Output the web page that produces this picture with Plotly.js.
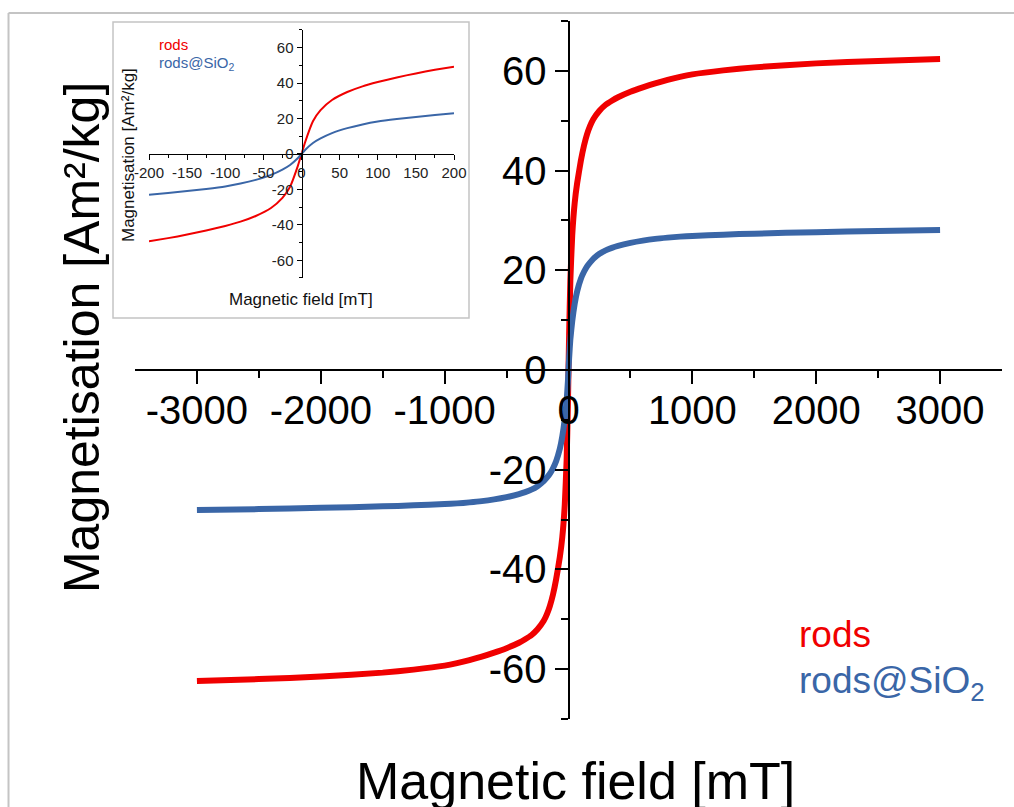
<!DOCTYPE html>
<html>
<head>
<meta charset="utf-8">
<script src="https://cdn.plot.ly/plotly-3.0.1.min.js"></script>
<style>
  html, body { margin: 0; padding: 0; background: #ffffff; }
  #chart { width: 1014px; height: 807px; }
</style>
</head>
<body>
<div id="chart"></div>
<script>
// ---- data ----
const fieldMain = [-3000,-2500,-2000,-1500,-1250,-1000,-900,-800,-700,-600,-500,-400,-350,-300,-250,-200,-175,-150,-125,-100,-70,-50,-30,-15,-5,
                   0,
                   5,15,30,50,70,100,125,150,175,200,250,300,350,400,500,600,700,800,900,1000,1250,1500,2000,2500,3000];
const rodsMain = [-62.4,-62.0,-61.5,-60.7,-60.1,-59.3,-58.8,-58.2,-57.5,-56.7,-55.8,-54.7,-54.0,-53.2,-52.0,-50.3,-49.0,-47.3,-45.0,-42.0,-37.5,-33.5,-27.0,-18.0,-7.0,
                  0,
                  7.0,18.0,27.0,33.5,37.5,42.0,45.0,47.3,49.0,50.3,52.0,53.2,54.0,54.7,55.8,56.7,57.5,58.2,58.8,59.3,60.1,60.7,61.5,62.0,62.4];
const silicaMain = [-28.1,-27.9,-27.65,-27.35,-27.15,-26.9,-26.75,-26.55,-26.3,-25.95,-25.5,-24.9,-24.5,-24.0,-23.3,-22.3,-21.6,-20.8,-19.7,-18.3,-15.8,-13.3,-9.8,-6.2,-2.4,
                    0,
                    2.4,6.2,9.8,13.3,15.8,18.3,19.7,20.8,21.6,22.3,23.3,24.0,24.5,24.9,25.5,25.95,26.3,26.55,26.75,26.9,27.15,27.35,27.65,27.9,28.1];

const fieldInset = [-200,-175,-150,-125,-100,-80,-60,-40,-25,-15,-5,0,5,15,25,40,60,80,100,125,150,175,200];
const rodsInset = [-49.3,-47.5,-45.5,-43.2,-40.6,-38.2,-35.0,-30.5,-24.8,-18.5,-7.0,0,7.0,18.5,24.8,30.5,35.0,38.2,40.6,43.2,45.5,47.5,49.3];
const silicaInset = [-23.0,-22.0,-20.9,-19.7,-18.3,-16.7,-14.6,-11.8,-8.8,-6.2,-2.4,0,2.4,6.2,8.8,11.8,14.6,16.7,18.3,19.7,20.9,22.0,23.0];

const xTickVals = [-3000,-2000,-1000,0,1000,2000,3000];
const xTickText = ['-3000','-2000','-1000','0','1000','2000','3000'];
const yTickVals = [-60,-40,-20,0,20,40,60];
const yTickText = ['-60','-40','-20','0','20','40','60'];
const insetXTickVals = [-200,-150,-100,-50,0,50,100,150,200];
const insetXTickText = ['-200','-150','-100','-50','0','50','100','150','200'];
const insetYTickVals = [-60,-40,-20,0,20,40,60];
const insetYTickText = ['-60','-40','-20','0','20','40','60'];

const seriesNames = ['rods', 'rods@SiO<sub>2</sub>'];
const xTitle = 'Magnetic field [mT]';
const yTitle = 'Magnetisation [Am²/kg]';

// ---- styling ----
const RED = '#f00000';
const BLUE = '#3a66a7';
const FONT = 'Liberation Sans, Arial, Helvetica, sans-serif';

const traces = [
  {x: fieldMain, y: rodsMain, type: 'scatter', mode: 'lines', xaxis: 'x', yaxis: 'y',
   line: {color: RED, width: 6, shape: 'spline', smoothing: 0.5}, hoverinfo: 'skip'},
  {x: fieldMain, y: silicaMain, type: 'scatter', mode: 'lines', xaxis: 'x', yaxis: 'y',
   line: {color: BLUE, width: 6, shape: 'spline', smoothing: 0.5}, hoverinfo: 'skip'},
  {x: fieldInset, y: rodsInset, type: 'scatter', mode: 'lines', xaxis: 'x2', yaxis: 'y2',
   line: {color: RED, width: 2, shape: 'spline', smoothing: 0.6}, hoverinfo: 'skip'},
  {x: fieldInset, y: silicaInset, type: 'scatter', mode: 'lines', xaxis: 'x2', yaxis: 'y2',
   line: {color: BLUE, width: 2, shape: 'spline', smoothing: 0.6}, hoverinfo: 'skip'}
];

const mainAxisCommon = {
  showline: true, linecolor: '#000', linewidth: 2,
  ticks: 'outside', ticklen: 13, tickwidth: 2, tickcolor: '#000',
  showgrid: false, zeroline: false,
  tickfont: {family: FONT, size: 40, color: '#000'},
  tickmode: 'array', anchor: 'free', position: 0.5
};

const insetAxisCommon = {
  showline: true, linecolor: '#000', linewidth: 1,
  ticks: 'outside', ticklen: 5, tickwidth: 1, tickcolor: '#000',
  showgrid: false, zeroline: false,
  tickfont: {family: FONT, size: 15, color: '#222'},
  tickmode: 'array', anchor: 'free'
};

const insetXDomain = [0.01615, 0.36794];
const insetYDomain = [0.63181, 0.98711];

const layout = {
  width: 1014, height: 807,
  margin: {l: 135, r: 12, t: 21, b: 88},
  paper_bgcolor: '#ffffff', plot_bgcolor: 'rgba(0,0,0,0)',
  showlegend: false,
  font: {family: FONT, color: '#000'},
  xaxis: Object.assign({}, mainAxisCommon, {
    domain: [0, 1], range: [-3500, 3500],
    tickvals: xTickVals, ticktext: xTickText,
    ticklabelstandoff: -8,
    minor: {tickmode: 'array', tickvals: [-2500,-1500,-500,500,1500,2500], ticks: 'outside', ticklen: 7, tickwidth: 2, tickcolor: '#000', showgrid: false}
  }),
  yaxis: Object.assign({}, mainAxisCommon, {
    domain: [0, 1], range: [-70, 70],
    tickvals: yTickVals, ticktext: yTickText,
    minor: {dtick: 10, tick0: 0, ticks: 'outside', ticklen: 7, tickwidth: 2, tickcolor: '#000', showgrid: false}
  }),
  xaxis2: Object.assign({}, insetAxisCommon, {
    domain: insetXDomain, range: [-200, 200],
    position: (insetYDomain[0] + insetYDomain[1]) / 2,
    tickvals: insetXTickVals, ticktext: insetXTickText,
    minor: {dtick: 25, tick0: 0, ticks: 'outside', ticklen: 3, tickwidth: 1, tickcolor: '#000', showgrid: false}
  }),
  yaxis2: Object.assign({}, insetAxisCommon, {
    domain: insetYDomain, range: [-70, 70],
    position: (insetXDomain[0] + insetXDomain[1]) / 2,
    tickvals: insetYTickVals, ticktext: insetYTickText,
    minor: {dtick: 10, tick0: 0, ticks: 'outside', ticklen: 3, tickwidth: 1, tickcolor: '#000', showgrid: false}
  }),
  shapes: [
    // outer frame (top and left edges visible)
    {type: 'line', xref: 'paper', yref: 'paper', x0: -0.1459, x1: 1.03, y0: 1.0115, y1: 1.0115,
     line: {color: '#c4c4c4', width: 2}, layer: 'below'},
    {type: 'line', xref: 'paper', yref: 'paper', x0: -0.1459, x1: -0.1459, y0: 1.0115, y1: -0.14,
     line: {color: '#c4c4c4', width: 2}, layer: 'below'},
    // inset box
    {type: 'rect', xref: 'paper', yref: 'paper', x0: -0.02537, x1: 0.38524, y0: 0.5745, y1: 0.99857,
     fillcolor: '#ffffff', line: {color: '#c4c4c4', width: 1.5}, layer: 'below'}
  ],
  annotations: [
    {text: xTitle, xref: 'paper', yref: 'paper', x: 0.5075, y: -0.0895, xanchor: 'center', yanchor: 'middle',
     showarrow: false, font: {family: FONT, size: 52, color: '#000'}},
    {text: yTitle, xref: 'paper', yref: 'paper', x: -0.0611, y: 0.5458, xanchor: 'center', yanchor: 'middle',
     textangle: -90, showarrow: false, font: {family: FONT, size: 50, color: '#000'}},
    {text: seriesNames[0], xref: 'paper', yref: 'paper', x: 0.764, y: 0.1215, xanchor: 'left', yanchor: 'middle',
     showarrow: false, font: {family: FONT, size: 37, color: RED}},
    {text: seriesNames[1], xref: 'paper', yref: 'paper', x: 0.764, y: 0.0516, xanchor: 'left', yanchor: 'middle',
     showarrow: false, font: {family: FONT, size: 37, color: BLUE}},
    {text: seriesNames[0], xref: 'paper', yref: 'paper', x: 0.0255, y: 0.967, xanchor: 'left', yanchor: 'middle',
     showarrow: false, font: {family: FONT, size: 15, color: RED}},
    {text: seriesNames[1], xref: 'paper', yref: 'paper', x: 0.0255, y: 0.9398, xanchor: 'left', yanchor: 'middle',
     showarrow: false, font: {family: FONT, size: 15, color: BLUE}},
    {text: xTitle, xref: 'paper', yref: 'paper', x: 0.1920, y: 0.6017, xanchor: 'center', yanchor: 'middle',
     showarrow: false, font: {family: FONT, size: 17, color: '#111'}},
    {text: yTitle, xref: 'paper', yref: 'paper', x: -0.00807, y: 0.808, xanchor: 'center', yanchor: 'middle',
     textangle: -90, showarrow: false, font: {family: FONT, size: 17, color: '#111'}}
  ]
};

Plotly.newPlot('chart', traces, layout, {staticPlot: true, displayModeBar: false});
</script>
</body>
</html>
